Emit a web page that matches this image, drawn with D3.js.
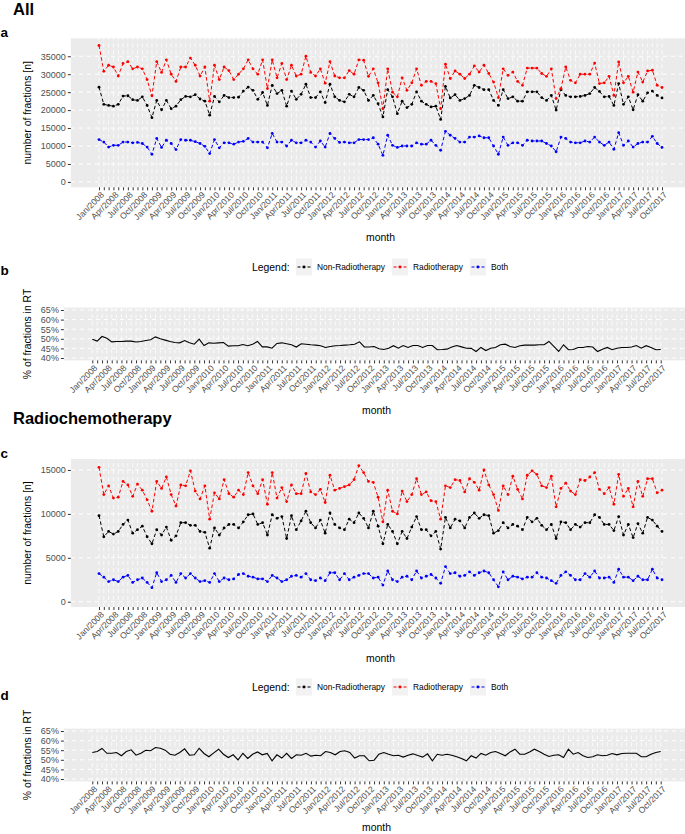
<!DOCTYPE html>
<html><head><meta charset="utf-8">
<script src="https://cdn.jsdelivr.net/npm/d3@7"></script>
<style>
body{margin:0;background:#fff;}
svg{display:block;}
text{font-family:"Liberation Sans",Arial,Helvetica,sans-serif;}
</style>
</head><body>
<svg id="chart" width="685" height="834"></svg>
<script>
// ---------- categories ----------
const months = d3.timeMonth.range(new Date(2008,0,1), new Date(2017,10,1)).map(d3.timeFormat("%b/%Y"));
const seriesNames = ["Non-Radiotherapy","Radiotherapy","Both"];
const seriesColors = ["#000000","#FF0000","#0000FF"];
const countTicksAll = [0,5000,10000,15000,20000,25000,30000,35000];
const countTicksRct = [0,5000,10000,15000];
const pctTicks = [40,45,50,55,60,65];

// ---------- panel a: All ----------
const allNonRT = [26400,21600,21300,21100,21600,23900,24000,22900,22700,23700,21300,17900,22700,20100,22700,20400,21100,22900,23800,23700,24300,23100,22500,18600,23800,22300,24100,23500,23500,23600,25300,26400,25500,23000,24900,21300,26900,24600,25500,21100,25300,23000,24400,27200,23500,23500,25100,22100,27200,23700,22700,22300,24400,23700,26300,
25500,22700,24100,21800,18100,25700,23700,19000,22500,20700,21600,25100,22500,21600,20900,21100,17400,26600,23400,24300,22700,23200,24100,26900,26300,25700,25700,22700,21300,25700,23200,23700,22500,22500,25100,25100,25100,23500,22700,24100,20000,25700,24100,23700,23700,23800,24100,24600,26300,25200,23700,23800,21300,27400,21600,23700,20100,24300,22500,24800,25300,24100,23400];
const allRT = [38000,30800,32500,32000,29500,33000,33500,31500,32000,31500,28500,24000,33500,30500,34000,30000,28000,32000,32000,34500,32500,29500,32000,22500,32500,28500,32000,31000,28500,30000,31500,34000,31500,30000,34000,26000,34000,29000,33000,28500,32500,29500,30000,35000,30500,29500,31500,27500,33500,29500,29000,29000,31000,30000,34000,
33900,29400,31500,27600,20400,31500,25000,23700,29000,25500,27600,31500,26900,28000,28000,27400,20400,32800,28800,30900,30000,28800,30000,32300,30600,32500,30200,27800,23500,31500,29700,30600,28000,26900,31700,31700,31700,30200,29400,31500,23200,26000,32000,28300,27600,30000,30000,30000,33100,27400,27600,29400,24100,33400,27600,29400,25000,30600,27800,30900,31100,26900,26300];
const allBoth = [11800,11100,9700,10200,10200,11100,11100,10900,11000,10700,9700,7700,12100,9600,11600,10700,9000,11800,11600,11600,11200,10700,9900,7900,11800,9500,10900,10900,10500,11100,11300,12100,11100,11100,11100,9500,13500,11100,11100,10000,11600,10900,10900,11600,11100,9700,11400,9700,13500,12100,11000,11100,10900,10900,11800,
11800,11800,12300,10500,7400,13000,10200,9600,10000,10000,10000,10900,10500,10500,11600,10200,8800,14100,13000,12100,11100,11100,12500,12500,12800,12300,12300,10000,7700,12500,10200,10900,10900,10200,11600,11400,11400,11400,10700,10000,8400,12500,12100,11100,10900,10900,11400,11100,12500,11100,10200,11100,9100,13700,10200,11400,9700,10700,11100,11100,12700,10700,9600];
// ---------- panel b: % of fractions in RT (All) ----------
const allPctRT = [49.8,48.8,51.2,50.3,48.4,48.6,48.6,48.8,48.8,48.3,48.6,49.1,49.5,51.0,50.0,49.3,48.6,48.1,47.9,49.1,47.9,47.2,49.8,46.5,47.9,47.7,47.9,48.1,46.2,46.4,46.4,47.0,46.4,47.2,48.6,45.8,45.8,45.1,47.6,47.9,47.4,46.9,45.7,47.4,47.2,46.9,46.7,46.4,45.5,46.0,46.4,46.5,46.7,46.9,47.2,48.4,45.8,45.7,46.0,44.8,
44.4,45.1,46.4,45.1,46.5,45.5,46.5,46.5,45.5,46.5,46.5,44.3,44.4,44.6,45.7,46.5,45.8,45.1,45.0,43.4,45.5,43.9,45.1,45.5,46.9,47.2,46.0,45.5,46.4,46.7,46.7,46.7,46.9,46.9,48.6,46.0,43.4,46.9,44.3,44.4,45.5,45.5,46.0,45.7,43.4,44.6,45.5,44.3,45.1,45.5,45.5,45.7,46.5,45.1,46.4,45.5,44.3,44.4];

// ---------- panel c: Radiochemotherapy ----------
const rctNonRT = [9800,7400,8000,7700,8000,8800,9300,7800,8200,8600,7400,6600,8200,7600,8500,7000,7500,9000,9000,8700,8700,8000,7900,6100,8400,7600,8400,8800,8800,8400,9100,9900,10000,8800,9000,7600,9900,9500,9700,7200,9800,8200,9200,10300,9000,8400,9300,7800,10100,8800,8400,8200,9400,9000,10100,
9500,8400,10300,8600,6600,8800,8000,6600,8000,7200,8500,9700,8200,8200,7500,8000,6000,9600,8400,9400,9200,8400,9600,10100,9500,9900,9800,7800,8100,9000,8400,8800,8600,8200,9600,9100,9500,8700,8200,8800,7200,9100,9000,8200,8800,8500,9000,9000,9900,9600,8800,8800,8100,9700,7600,8800,7300,8900,7800,9600,9300,8600,8000];
const rctRT = [15300,12200,13200,11800,11900,13700,13300,12000,13400,12700,11600,10300,13700,12900,14200,12200,10900,13300,13200,14900,12600,11700,13200,9400,12400,11700,13900,12300,11900,12700,12200,14700,13200,12300,13900,11100,14700,11800,13000,11400,13300,12300,12300,14600,12500,12200,12800,11300,14400,12700,12900,13100,13300,13900,15500,
14700,13700,13600,11900,9100,12700,10300,10000,12600,11400,12200,14000,12200,12500,11500,11400,9400,13200,13000,13900,13800,12500,14000,13600,12700,15000,13300,12200,10400,13200,12200,14300,12800,11700,14400,14900,14500,13200,13000,14300,10800,12900,13500,12600,12200,13900,13800,14200,14700,12800,12300,13000,11100,14500,12000,12900,10800,13700,12000,14000,14000,12400,12700];
const rctBoth = [3200,2800,2300,2500,2300,2800,3000,2200,2500,2700,2200,1600,3300,2300,2500,3000,2200,3200,2700,3200,2700,2300,2400,2200,3200,2300,2700,2500,2600,3100,3200,2900,2800,2600,2600,2300,3000,2700,2300,2500,2900,3000,2800,3200,2500,2400,2700,2400,3300,3300,2500,3200,2500,2800,3000,
3200,3200,2700,2800,1900,3500,2500,2300,2800,2900,2500,3500,2700,2900,3100,2700,2100,4000,3200,3300,2900,3000,3400,3000,3300,3500,3300,2500,1700,3400,2500,2900,2800,2600,2800,2800,3300,2800,2700,2400,2100,3000,3400,3000,2500,2500,3200,2800,3500,2700,2700,2800,2200,3700,2800,2800,2400,2900,2500,2500,3700,2700,2500];
// ---------- panel d: % of fractions in RT (Radiochemotherapy) ----------
const rctPctRT = [53.8,54.3,55.9,53.4,53.4,53.8,52.1,54.3,55.2,52.4,53.4,55.0,54.7,56.4,56.0,55.0,52.9,52.4,53.8,55.7,52.4,52.6,56.0,53.3,51.6,53.6,55.5,52.9,51.2,52.6,50.0,53.4,50.7,52.9,54.1,52.6,53.3,49.5,52.6,50.9,53.4,50.7,52.6,52.4,53.4,51.9,52.4,52.1,54.3,53.8,52.6,54.3,54.7,53.8,50.9,52.1,52.1,49.5,49.8,52.9,
53.8,52.9,52.1,52.4,51.4,52.4,53.1,52.2,51.4,53.1,49.5,52.9,52.4,52.9,52.4,51.6,50.7,49.5,52.1,50.9,53.3,52.4,53.8,54.3,53.3,52.1,54.1,55.5,52.9,52.9,54.1,55.5,54.3,52.9,51.7,52.4,52.6,51.2,55.5,52.9,53.8,52.1,51.2,51.6,52.6,52.1,52.4,53.3,52.6,53.3,53.4,53.4,53.4,51.6,51.6,52.9,53.8,54.3];

// ---------- drawing ----------
const svg = d3.select("#chart");
const FONT = '"Liberation Sans",Arial,Helvetica,sans-serif';

function drawPanel(o){
  const n = months.length;
  const x = d3.scalePoint().domain(months).range([o.x0, o.x1]);
  const pad = x.step() * (n - 1) * 0.05;
  const left = o.x0 - pad, right = o.x1 + pad;
  const y = d3.scaleLinear().domain(o.yDomain).range([o.bottom, o.top]);
  const g = svg.append("g");

  g.append("rect").attr("x", left).attr("y", o.top)
    .attr("width", right - left).attr("height", o.bottom - o.top).attr("fill", "#EBEBEB");

  g.append("g").selectAll("line").data(o.yTicks).join("line")
    .attr("x1", left).attr("x2", right)
    .attr("y1", d => y(d)).attr("y2", d => y(d))
    .attr("stroke", "#fff").attr("stroke-width", 1).attr("stroke-dasharray", "4,4");
  g.append("g").selectAll("line").data(months).join("line")
    .attr("x1", d => x(d)).attr("x2", d => x(d))
    .attr("y1", o.bottom).attr("y2", o.top)
    .attr("stroke", "#fff").attr("stroke-width", 0.8).attr("stroke-dasharray", "4,3");

  const ya = g.append("g").attr("transform", `translate(${left},0)`)
    .call(d3.axisLeft(y).tickValues(o.yTicks).tickFormat(o.yFmt).tickSize(3).tickPadding(2));
  ya.select(".domain").remove();
  ya.selectAll("line").attr("stroke", "#333");
  ya.selectAll("text").attr("fill", "#4D4D4D").style("font-size", "9px").style("font-family", FONT);

  const xa = g.append("g").attr("transform", `translate(0,${o.bottom})`)
    .call(d3.axisBottom(x).tickSize(3).tickFormat((d, i) => i % 3 === 0 ? d : ""));
  xa.select(".domain").remove();
  xa.selectAll("line").attr("stroke", "#333");
  xa.selectAll("text").attr("fill", "#4D4D4D").style("font-size", "8.6px").style("font-family", FONT)
    .attr("text-anchor", "end").attr("x", 0).attr("y", 0).attr("dy", "0.35em")
    .attr("transform", "translate(3,6) rotate(-45)");

  o.series.forEach(s => {
    const line = d3.line().x((d, i) => x(months[i])).y(d => y(d));
    g.append("path").datum(s.values).attr("d", line).attr("fill", "none")
      .attr("stroke", s.color).attr("stroke-width", s.dashed ? 1 : 1.1)
      .attr("stroke-dasharray", s.dashed ? "3.5,2.5" : null);
    if (s.points) {
      g.append("g").selectAll("circle").data(s.values).join("circle")
        .attr("cx", (d, i) => x(months[i])).attr("cy", d => y(d)).attr("r", 1.4).attr("fill", s.color);
    }
  });

  g.append("text").attr("transform", `translate(27,${(o.top + o.bottom) / 2}) rotate(-90)`)
    .attr("text-anchor", "middle").attr("dy", "0.35em").style("font-size", "10.4px").attr("fill", "#000")
    .text(o.yTitle);
  g.append("text").attr("x", (left + right) / 2).attr("y", o.monthY).attr("dy", "0.35em")
    .attr("text-anchor", "middle").style("font-size", "10.4px").attr("fill", "#000").text("month");
}

function drawLegend(cy){
  const g = svg.append("g");
  g.append("text").attr("x", 252).attr("y", cy).attr("dy", "0.35em").style("font-size", "10.4px").text("Legend:");
  const keyX = [296, 392, 470];
  seriesNames.forEach((name, i) => {
    const kx = keyX[i];
    g.append("rect").attr("x", kx).attr("y", cy - 8.5).attr("width", 16).attr("height", 17).attr("fill", "#F2F2F2");
    g.append("line").attr("x1", kx + 1.5).attr("x2", kx + 14.5).attr("y1", cy).attr("y2", cy)
      .attr("stroke", seriesColors[i]).attr("stroke-width", 1).attr("stroke-dasharray", "3,2");
    g.append("circle").attr("cx", kx + 8).attr("cy", cy).attr("r", 1.4).attr("fill", seriesColors[i]);
    g.append("text").attr("x", kx + 21).attr("y", cy).attr("dy", "0.35em").style("font-size", "8.4px").attr("fill", "#000").text(name);
  });
}

function heading(txt, y){
  svg.append("text").attr("x", 13).attr("y", y).style("font-size", "16.5px").style("font-weight", "bold").text(txt);
}
function tag(txt, y){
  svg.append("text").attr("x", 0.5).attr("y", y).style("font-size", "13.5px").style("font-weight", "bold").text(txt);
}

const pctFmt = d => d + "%";

heading("All", 15);
tag("a", 37);
drawPanel({x0: 99, x1: 662, top: 38.3, bottom: 187.3, yDomain: [-1500, 40000], yTicks: countTicksAll,
  yFmt: d3.format("d"), yTitle: "number of fractions [n]", monthY: 237,
  series: [
    {values: allNonRT, color: seriesColors[0], dashed: true, points: true},
    {values: allRT, color: seriesColors[1], dashed: true, points: true},
    {values: allBoth, color: seriesColors[2], dashed: true, points: true}
  ]});
drawLegend(267);
tag("b", 275);
drawPanel({x0: 92.3, x1: 660.7, top: 307.6, bottom: 360.4, yDomain: [38.75, 66.25], yTicks: pctTicks,
  yFmt: pctFmt, yTitle: "% of fractions in RT", monthY: 410,
  series: [{values: allPctRT, color: "#000", dashed: false, points: false}]});

heading("Radiochemotherapy", 424);
tag("c", 458);
drawPanel({x0: 99, x1: 662, top: 459, bottom: 607, yDomain: [-600, 16250], yTicks: countTicksRct,
  yFmt: d3.format("d"), yTitle: "number of fractions [n]", monthY: 658,
  series: [
    {values: rctNonRT, color: seriesColors[0], dashed: true, points: true},
    {values: rctRT, color: seriesColors[1], dashed: true, points: true},
    {values: rctBoth, color: seriesColors[2], dashed: true, points: true}
  ]});
drawLegend(687);
tag("d", 700);
drawPanel({x0: 92.3, x1: 660.7, top: 728.6, bottom: 781.4, yDomain: [38.75, 66.25], yTicks: pctTicks,
  yFmt: pctFmt, yTitle: "% of fractions in RT", monthY: 827,
  series: [{values: rctPctRT, color: "#000", dashed: false, points: false}]});
</script>
</body></html>
